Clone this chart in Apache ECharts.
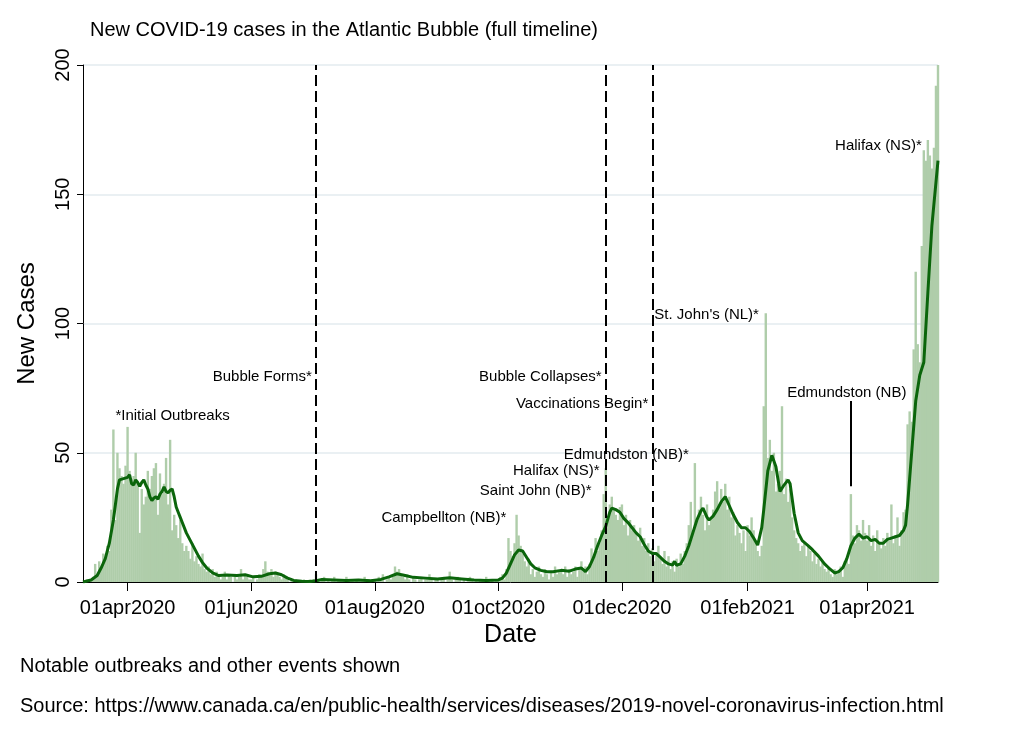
<!DOCTYPE html>
<html>
<head>
<meta charset="utf-8">
<script src="https://cdn.jsdelivr.net/npm/echarts@6/dist/echarts.min.js"></script>
<style>
  html, body { margin: 0; background: #fff; }
  #chart { width: 1013px; height: 737px; }
</style>
</head>
<body>
<div id="chart"></div>
<script>
// daily new cases, one array per month (first day of data: 10 Mar 2020)
const mar2020 = [0, 0, 1, 0, 1, 2, 7, 3, 8, 5, 11, 9, 14, 12, 28, 59, 24, 50, 44, 41, 38, 45];
const apr2020 = [60, 43, 40, 41, 50, 38, 19, 36, 30, 33, 43, 36, 41, 44, 46, 26, 42, 34, 38, 48, 30, 55, 20, 26, 22, 17, 24, 15, 12, 14];
const may2020 = [12, 9, 15, 8, 10, 7, 6, 11, 5, 4, 6, 3, 5, 2, 4, 3, 1, 2, 4, 1, 3, 2, 0, 3, 1, 2, 5, 1, 3, 2, 1];
const jun2020 = [1, 2, 0, 1, 3, 2, 5, 8, 4, 3, 5, 2, 4, 3, 2, 1, 3, 2, 1, 0, 1, 0, 1, 0, 0, 0, 1, 0, 0, 1];
const jul2020 = [0, 1, 3, 1, 0, 1, 2, 0, 1, 0, 1, 2, 0, 1, 1, 0, 0, 2, 1, 0, 1, 0, 1, 0, 0, 1, 2, 0, 1, 0, 1];
const aug2020 = [1, 0, 2, 1, 3, 0, 1, 2, 1, 2, 6, 4, 5, 3, 2, 1, 3, 1, 0, 2, 1, 0, 1, 2, 0, 1, 1, 3, 1, 0, 1];
const sep2020 = [1, 0, 1, 2, 0, 1, 4, 1, 0, 1, 2, 1, 0, 1, 0, 1, 2, 1, 0, 1, 0, 1, 1, 0, 2, 1, 0, 1, 0, 1];
const oct2020 = [1, 2, 3, 1, 5, 17, 12, 10, 15, 26, 18, 14, 11, 8, 6, 9, 3, 5, 2, 4, 6, 3, 2, 5, 3, 1, 4, 2, 6, 3, 4];
const nov2020 = [4, 3, 6, 2, 5, 3, 4, 6, 2, 5, 8, 4, 6, 3, 7, 13, 9, 17, 12, 15, 20, 34, 44, 25, 30, 33, 28, 26, 24, 29];
const dec2020 = [30, 22, 26, 18, 24, 20, 22, 19, 16, 21, 14, 17, 12, 15, 10, 13, 8, 11, 14, 9, 7, 12, 6, 10, 5, 8, 4, 9, 6, 11, 7];
const jan2021 = [12, 15, 22, 31, 20, 46, 24, 28, 33, 26, 20, 30, 22, 25, 28, 35, 39, 30, 36, 31, 38, 28, 33, 25, 27, 18, 22, 19, 15, 20, 12];
const feb2021 = [22, 18, 25, 20, 16, 12, 10, 14, 68, 104, 48, 55, 43, 50, 35, 38, 43, 68, 34, 40, 31, 36, 25, 20, 17, 15, 12, 14];
const mar2021 = [15, 10, 14, 12, 8, 11, 7, 9, 6, 8, 5, 4, 6, 3, 2, 5, 3, 4, 6, 2, 8, 9, 7, 34, 18, 15, 22, 20, 16, 24, 19];
const apr2021 = [16, 22, 14, 18, 12, 20, 15, 13, 17, 14, 19, 16, 30, 15, 18, 25, 14, 20, 27, 28, 61, 66, 62, 90, 120, 92, 85, 130, 167, 163];
const may2021 = [171, 165, 160, 168, 192, 200];

// smoothed line
const trend = [
  ['2020-03-10', 0], ['2020-03-14', 0.8], ['2020-03-17', 2.5], ['2020-03-19', 5.5], ['2020-03-21', 9],
  ['2020-03-23', 15], ['2020-03-25', 24], ['2020-03-26', 30], ['2020-03-27', 36], ['2020-03-28', 39.5],
  ['2020-03-30', 40], ['2020-04-01', 40.5], ['2020-04-02', 41.5], ['2020-04-03', 38], ['2020-04-04', 37.5],
  ['2020-04-05', 39.5], ['2020-04-06', 38.5], ['2020-04-07', 37], ['2020-04-08', 38.5], ['2020-04-09', 39.5],
  ['2020-04-10', 37.5], ['2020-04-11', 36], ['2020-04-12', 33], ['2020-04-13', 31.5], ['2020-04-14', 32.5],
  ['2020-04-15', 33], ['2020-04-16', 32], ['2020-04-17', 34], ['2020-04-18', 35], ['2020-04-19', 36.8],
  ['2020-04-20', 35], ['2020-04-21', 34.5], ['2020-04-22', 35.5], ['2020-04-23', 36], ['2020-04-24', 33],
  ['2020-04-25', 29], ['2020-04-26', 27], ['2020-04-27', 25], ['2020-04-28', 23], ['2020-04-30', 19],
  ['2020-05-02', 16], ['2020-05-04', 13], ['2020-05-06', 10], ['2020-05-08', 7.5], ['2020-05-10', 5.5],
  ['2020-05-13', 3.5], ['2020-05-16', 2.5], ['2020-05-20', 2.7], ['2020-05-25', 2.5], ['2020-05-29', 2.8],
  ['2020-06-02', 2], ['2020-06-06', 2.2], ['2020-06-10', 3.2], ['2020-06-13', 3.5], ['2020-06-16', 2.8],
  ['2020-06-19', 1.5], ['2020-06-22', 0.6], ['2020-06-26', 0.3], ['2020-06-30', 0.2], ['2020-07-03', 0.5],
  ['2020-07-06', 1], ['2020-07-12', 0.8], ['2020-07-18', 0.6], ['2020-07-24', 0.8], ['2020-07-30', 0.5],
  ['2020-08-04', 1], ['2020-08-08', 2], ['2020-08-12', 3.2], ['2020-08-16', 2.5], ['2020-08-20', 1.8],
  ['2020-08-26', 1.5], ['2020-09-01', 1.2], ['2020-09-07', 1.6], ['2020-09-13', 1.2], ['2020-09-19', 0.8],
  ['2020-09-25', 0.6], ['2020-10-01', 0.8], ['2020-10-03', 1.5], ['2020-10-05', 3.5], ['2020-10-07', 7],
  ['2020-10-09', 10.5], ['2020-10-11', 12.4], ['2020-10-13', 12], ['2020-10-15', 9.5], ['2020-10-17', 7],
  ['2020-10-19', 5.5], ['2020-10-22', 4.5], ['2020-10-25', 4], ['2020-10-28', 4], ['2020-11-01', 4.5],
  ['2020-11-05', 4.2], ['2020-11-08', 5], ['2020-11-11', 5.4], ['2020-11-13', 4], ['2020-11-15', 6],
  ['2020-11-17', 9.5], ['2020-11-19', 14], ['2020-11-21', 18], ['2020-11-23', 21.5], ['2020-11-25', 27],
  ['2020-11-26', 28.6], ['2020-11-28', 28], ['2020-11-30', 27], ['2020-12-02', 24.5], ['2020-12-04', 23],
  ['2020-12-06', 21], ['2020-12-08', 19], ['2020-12-10', 17.5], ['2020-12-12', 14.5], ['2020-12-14', 12],
  ['2020-12-16', 11], ['2020-12-18', 11], ['2020-12-20', 9.5], ['2020-12-22', 8], ['2020-12-24', 7],
  ['2020-12-26', 6.6], ['2020-12-27', 8], ['2020-12-28', 6.5], ['2020-12-30', 7], ['2021-01-01', 10],
  ['2021-01-03', 14], ['2021-01-05', 19], ['2021-01-07', 24], ['2021-01-09', 27.5], ['2021-01-10', 28.6],
  ['2021-01-12', 25], ['2021-01-13', 24], ['2021-01-15', 25.5], ['2021-01-17', 28], ['2021-01-19', 31],
  ['2021-01-21', 33], ['2021-01-23', 29.5], ['2021-01-25', 26], ['2021-01-27', 23], ['2021-01-29', 21],
  ['2021-01-31', 21], ['2021-02-02', 19.5], ['2021-02-04', 17], ['2021-02-06', 14.3], ['2021-02-08', 21],
  ['2021-02-09', 28], ['2021-02-11', 43], ['2021-02-13', 49], ['2021-02-15', 44.6], ['2021-02-17', 35],
  ['2021-02-19', 37.5], ['2021-02-21', 39.5], ['2021-02-22', 38], ['2021-02-24', 26.6], ['2021-02-26', 19],
  ['2021-02-28', 16], ['2021-03-03', 14], ['2021-03-05', 12.5], ['2021-03-08', 10], ['2021-03-11', 7],
  ['2021-03-13', 5.5], ['2021-03-16', 3.5], ['2021-03-18', 4], ['2021-03-20', 5.5], ['2021-03-22', 9],
  ['2021-03-24', 14], ['2021-03-26', 17], ['2021-03-28', 18.5], ['2021-03-30', 17], ['2021-04-01', 17.5],
  ['2021-04-03', 16], ['2021-04-05', 16.5], ['2021-04-07', 15], ['2021-04-09', 15], ['2021-04-11', 16.5],
  ['2021-04-13', 17], ['2021-04-15', 17.5], ['2021-04-17', 18], ['2021-04-19', 20], ['2021-04-20', 22],
  ['2021-04-21', 30], ['2021-04-23', 50], ['2021-04-25', 70], ['2021-04-27', 80], ['2021-04-29', 85],
  ['2021-05-01', 112], ['2021-05-03', 138], ['2021-05-06', 163]
];

// event lines and notes
const eventDates = ['2020-07-03', '2020-11-23', '2020-12-16'];
const leftNotes = [
  ['Bubble Forms*', '2020-07-01', 79.2],
  ['Bubble Collapses*', '2020-11-21', 79.2],
  ['Vaccinations Begin*', '2020-12-14', 68.8],
  ['Campbellton (NB)*', '2020-10-05', 24.8],
  ['Saint John (NB)*', '2020-11-16', 35.3],
  ['Halifax (NS)*', '2020-11-20', 43],
  ['Edmundston (NB)*', '2021-01-03', 49.3],
  ['Halifax (NS)*', '2021-04-28', 168.7]
];
const rightNotes = [
  ['*Initial Outbreaks', '2020-03-26', 64.3],
  ["St. John's (NL)*", '2020-12-17', 103.3]
];
const centerNotes = [['Edmundston (NB)', '2021-03-22', 73.3]];
const pointerLine = ['2021-03-24', 37, 70];

const tickDates = ['2020-04-01', '2020-06-01', '2020-08-01', '2020-10-01', '2020-12-01', '2021-02-01', '2021-04-01'];
const monthNames = ['jan', 'feb', 'mar', 'apr', 'may', 'jun', 'jul', 'aug', 'sep', 'oct', 'nov', 'dec'];

const ts = s => { const p = s.split('-'); return +new Date(+p[0], +p[1] - 1, +p[2]); };

const daily = [].concat(mar2020, apr2020, may2020, jun2020, jul2020, aug2020, sep2020,
  oct2020, nov2020, dec2020, jan2021, feb2021, mar2021, apr2021, may2021);
const barData = daily.map((v, i) => [+new Date(2020, 2, 10 + i), v]);

const font = '"Liberation Sans", Arial, sans-serif';

function note(n, pos) {
  return {
    name: n[0],
    coord: [ts(n[1]), n[2]],
    label: { position: pos, distance: 0 }
  };
}

const chart = echarts.init(document.getElementById('chart'));

chart.setOption({
  backgroundColor: '#fff',
  animation: false,
  textStyle: { fontFamily: font },
  title: {
    text: 'New COVID-19 cases in the Atlantic Bubble (full timeline)',
    left: 85,
    top: 15,
    textStyle: { fontSize: 20, fontWeight: 'normal', color: '#000', fontFamily: font }
  },
  grid: { left: 83, right: 75, top: 65, bottom: 155 },
  xAxis: {
    type: 'value',
    min: ts('2020-03-10'),
    max: ts('2021-05-06'),
    name: 'Date',
    nameLocation: 'middle',
    nameGap: 40,
    nameTextStyle: { fontSize: 25, color: '#000', fontFamily: font },
    axisLine: { show: true, onZero: false, lineStyle: { color: '#000', width: 1 } },
    axisTick: { show: true, length: 9, lineStyle: { color: '#000' }, customValues: tickDates.map(ts) },
    axisLabel: {
      customValues: tickDates.map(ts),
      fontSize: 20,
      color: '#000',
      margin: 16,
      fontFamily: font,
      formatter: v => {
        const d = new Date(v);
        return '01' + monthNames[d.getMonth()] + d.getFullYear();
      }
    },
    splitLine: { show: false }
  },
  yAxis: {
    type: 'value',
    min: 0,
    max: 200,
    interval: 50,
    name: 'New Cases',
    nameLocation: 'middle',
    nameGap: 44,
    nameRotate: 90,
    nameTextStyle: { fontSize: 24, color: '#000', fontFamily: font },
    axisLine: { show: true, lineStyle: { color: '#000', width: 1 } },
    axisTick: { show: true, length: 6, lineStyle: { color: '#000' } },
    axisLabel: { rotate: 90, fontSize: 20, color: '#000', margin: 10, fontFamily: font },
    splitLine: { lineStyle: { color: '#e3ebef', width: 1.5 } }
  },
  series: [
    {
      name: 'New cases',
      type: 'bar',
      data: barData,
      barWidth: 2.4,
      itemStyle: { color: '#afcdaa' },
      markLine: {
        silent: true,
        symbol: 'none',
        label: { show: false },
        data: eventDates.map(d => ({
          xAxis: ts(d),
          lineStyle: { color: '#000', width: 2, type: [11, 5] }
        })).concat([[
          { coord: [ts(pointerLine[0]), pointerLine[1]], lineStyle: { color: '#000', width: 2, type: 'solid' } },
          { coord: [ts(pointerLine[0]), pointerLine[2]] }
        ]])
      }
    },
    {
      name: 'Trend',
      type: 'line',
      data: trend.map(p => [ts(p[0]), p[1]]),
      showSymbol: false,
      z: 3,
      lineStyle: { color: '#0b650b', width: 3 },
      itemStyle: { color: '#0b650b' },
      markPoint: {
        silent: true,
        symbol: 'circle',
        symbolSize: 0,
        itemStyle: { color: 'rgba(0,0,0,0)' },
        label: {
          show: true,
          formatter: '{b}',
          color: '#000',
          fontSize: 15,
          fontFamily: font
        },
        data: leftNotes.map(n => note(n, 'left'))
          .concat(rightNotes.map(n => note(n, 'right')))
          .concat(centerNotes.map(n => note(n, 'inside')))
      }
    }
  ],
  graphic: [
    {
      type: 'text',
      left: 20,
      top: 656,
      style: { text: 'Notable outbreaks and other events shown', fill: '#000', font: '20px ' + font }
    },
    {
      type: 'text',
      left: 20,
      top: 696,
      style: {
        text: 'Source: https://www.canada.ca/en/public-health/services/diseases/2019-novel-coronavirus-infection.html',
        fill: '#000',
        font: '20px ' + font
      }
    }
  ]
});
</script>
</body>
</html>
